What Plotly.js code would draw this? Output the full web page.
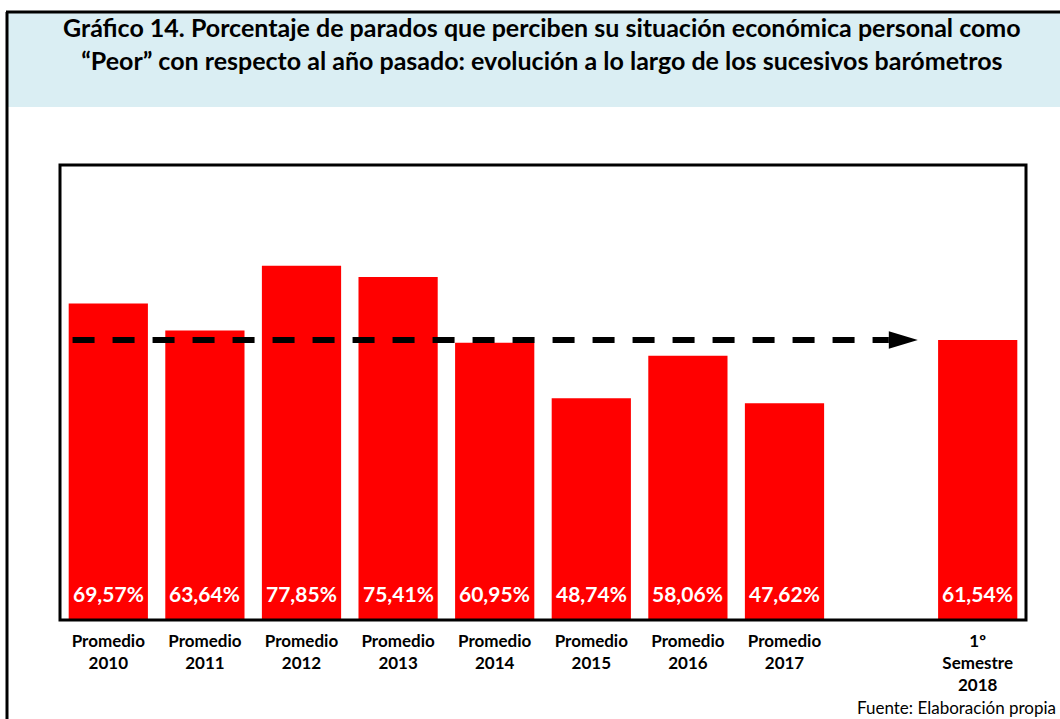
<!DOCTYPE html>
<html><head><meta charset="utf-8">
<script src="https://cdn.plot.ly/plotly-3.0.1.min.js"></script>
<style>html,body{margin:0;padding:0;background:#fff;}#chart{width:1060px;height:719px;}</style>
</head><body><div id="chart"></div>
<script>
var categories = ["Promedio<br>2010","Promedio<br>2011","Promedio<br>2012","Promedio<br>2013","Promedio<br>2014","Promedio<br>2015","Promedio<br>2016","Promedio<br>2017","","1º<br>Semestre<br>2018"];
var values = [69.57, 63.64, 77.85, 75.41, 60.95, 48.74, 58.06, 47.62, null, 61.54];
var labels = ["69,57%","63,64%","77,85%","75,41%","60,95%","48,74%","58,06%","47,62%","","61,54%"];
var titleText = "Gráfico 14. Porcentaje de parados que perciben su situación económica personal como<br>“Peor” con respecto al año pasado: evolución a lo largo de los sucesivos barómetros";
var sourceText = "Fuente: Elaboración propia";
var referenceValue = values[9];

var W = 1060, H = 719;
var mL = 60, mR = 34, mT = 165, mB = 99;
var pw = W - mL - mR, ph = H - mT - mB;
function px(x){ return (x - mL) / pw; }
function py(y){ return (H - mB - y) / ph; }

var idx = categories.map(function(_, i){ return i; });

var trace = {
  type: 'bar', x: idx, y: values,
  marker: {color: '#FF0000', line: {width: 0}},
  width: 0.82, hoverinfo: 'skip', textposition: 'none'
};

var annotations = [];
idx.forEach(function(i){
  if (values[i] !== null) {
    annotations.push({x: i, y: 0, xref: 'x', yref: 'y', text: '<b>' + labels[i] + '</b>',
      showarrow: false, yanchor: 'middle', yshift: 27,
      font: {family: 'Lato, sans-serif', size: 21, color: '#FFFFFF'}});
  }
});
annotations.push({xref: 'paper', yref: 'paper', x: px(542), y: py(43), xanchor: 'center', yanchor: 'middle',
  text: '<b>' + titleText + '</b>', showarrow: false, align: 'center',
  font: {family: 'Lato, sans-serif', size: 25, color: '#000'}});
annotations.push({xref: 'paper', yref: 'paper', x: px(1058), y: py(707), xanchor: 'right', yanchor: 'middle',
  text: sourceText, showarrow: false,
  font: {family: 'Lato, sans-serif', size: 17, color: '#000'}});

var xStart = -0.37, xHeadBase = 8.08, xTip = 8.38;
var shapes = [
  {type: 'rect', xref: 'paper', yref: 'paper', x0: px(8), x1: px(1062), y0: py(107), y1: py(13), fillcolor: '#DAEEF3', line: {width: 0}, layer: 'below'},
  {type: 'line', xref: 'paper', yref: 'paper', x0: px(7), x1: px(7), y0: py(12), y1: py(722), line: {color: '#000', width: 3}},
  {type: 'line', xref: 'paper', yref: 'paper', x0: px(6), x1: px(1062), y0: py(12), y1: py(12), line: {color: '#000', width: 3}},
  {type: 'line', xref: 'x', yref: 'y', x0: xStart, x1: xHeadBase, y0: referenceValue, y1: referenceValue,
    line: {color: '#000', width: 6, dash: '22px,18px'}},
  {type: 'path', xref: 'x', yref: 'y',
    path: 'M ' + xHeadBase + ' ' + (referenceValue - 1.9) + ' L ' + xTip + ' ' + referenceValue + ' L ' + xHeadBase + ' ' + (referenceValue + 1.9) + ' Z',
    fillcolor: '#000', line: {width: 0}},
  {type: 'rect', xref: 'paper', yref: 'paper', x0: 0, x1: 1, y0: 0, y1: 1, line: {color: '#000', width: 3}}
];

var layout = {
  width: W, height: H,
  margin: {l: mL, r: mR, t: mT, b: mB, pad: 0},
  paper_bgcolor: '#FFFFFF', plot_bgcolor: '#FFFFFF',
  showlegend: false,
  xaxis: {range: [-0.5, 9.5], tickmode: 'array', tickvals: idx, ticktext: categories.map(function(c){ return c ? '<b>' + c + '</b>' : ''; }),
    ticks: '', ticklabelstandoff: 9, showgrid: false, zeroline: false, showline: false, fixedrange: true,
    tickfont: {family: 'Lato, sans-serif', size: 17, color: '#000'}, tickangle: 0},
  yaxis: {range: [0, 100], showticklabels: false, ticks: '', showgrid: false, zeroline: false, showline: false, fixedrange: true},
  shapes: shapes,
  annotations: annotations
};

Plotly.newPlot('chart', [trace], layout, {displayModeBar: false, staticPlot: true});
</script></body></html>
